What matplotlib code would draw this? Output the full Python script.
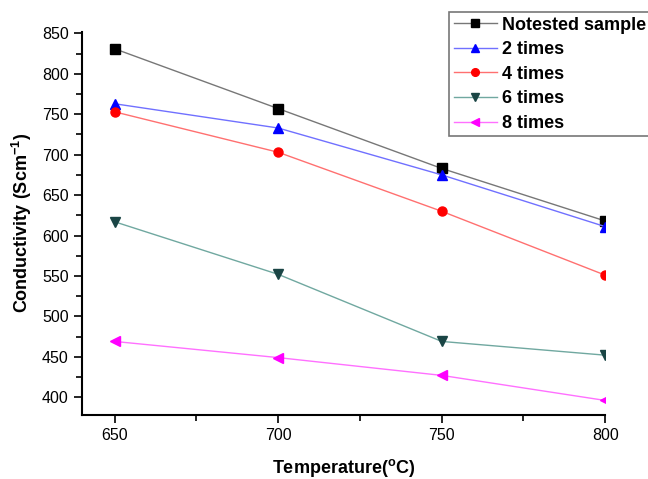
import numpy as np
import matplotlib.pyplot as plt
from matplotlib.ticker import MultipleLocator

plt.rcParams['font.family'] = ['Liberation Sans', 'DejaVu Sans']

temp = [650, 700, 750, 800]
notested = [831, 757, 683, 618]
times2 = [763, 733, 675, 611]
times4 = [753, 703, 630, 551]
times6 = [617, 552, 469, 452]
times8 = [469, 449, 427, 396]

fig = plt.figure(figsize=(6.48, 4.79), dpi=100)
ax = fig.add_axes([0.1265, 0.1336, 0.8075, 0.80])

series = [
    (notested, 'Notested sample', 's', '#000000', '#777777'),
    (times2, '2 times', '^', '#0000ff', '#7070ff'),
    (times4, '4 times', 'o', '#ff0000', '#ff7070'),
    (times6, '6 times', 'v', '#1a4545', '#70a8a0'),
    (times8, '8 times', '<', '#ff00ff', '#ff70ff'),
]
for y, lab, m, mc, lc in series:
    ax.plot(temp, y, color=lc, lw=1.0, marker=m, ms=6.5, mfc=mc, mec=mc, label=lab)

ax.set_xlim(640, 800)
ax.set_ylim(378, 852)
ax.xaxis.set_major_locator(MultipleLocator(50))
ax.xaxis.set_minor_locator(MultipleLocator(25))
ax.yaxis.set_major_locator(MultipleLocator(50))
ax.yaxis.set_minor_locator(MultipleLocator(25))
for s in ['top', 'right']:
    ax.spines[s].set_visible(False)
for s in ['left', 'bottom']:
    ax.spines[s].set_linewidth(1.5)
ax.tick_params(which='major', direction='out', length=6, width=1.2, labelsize=11.5)
ax.tick_params(which='minor', direction='out', length=4, width=1.2)

ax.set_xlabel('Temperature($^{\\mathregular{o}}$C)', fontsize=13, fontweight='bold', labelpad=10)
ax.set_ylabel('Conductivity (Scm$^{\\mathregular{-1}}$)', fontsize=13, fontweight='bold', labelpad=6)

leg = fig.legend(loc='upper left', bbox_to_anchor=(449 / 648, 1 - 12 / 479),
                 bbox_transform=fig.transFigure, fancybox=False, edgecolor='#555555',
                 prop={'weight': 'bold', 'size': 13}, handlelength=2.4, markerscale=0.85,
                 borderpad=0.25, labelspacing=0.42, handletextpad=0.3, borderaxespad=0)
leg.get_frame().set_linewidth(1.2)

fig.savefig('out.png', dpi=100)
